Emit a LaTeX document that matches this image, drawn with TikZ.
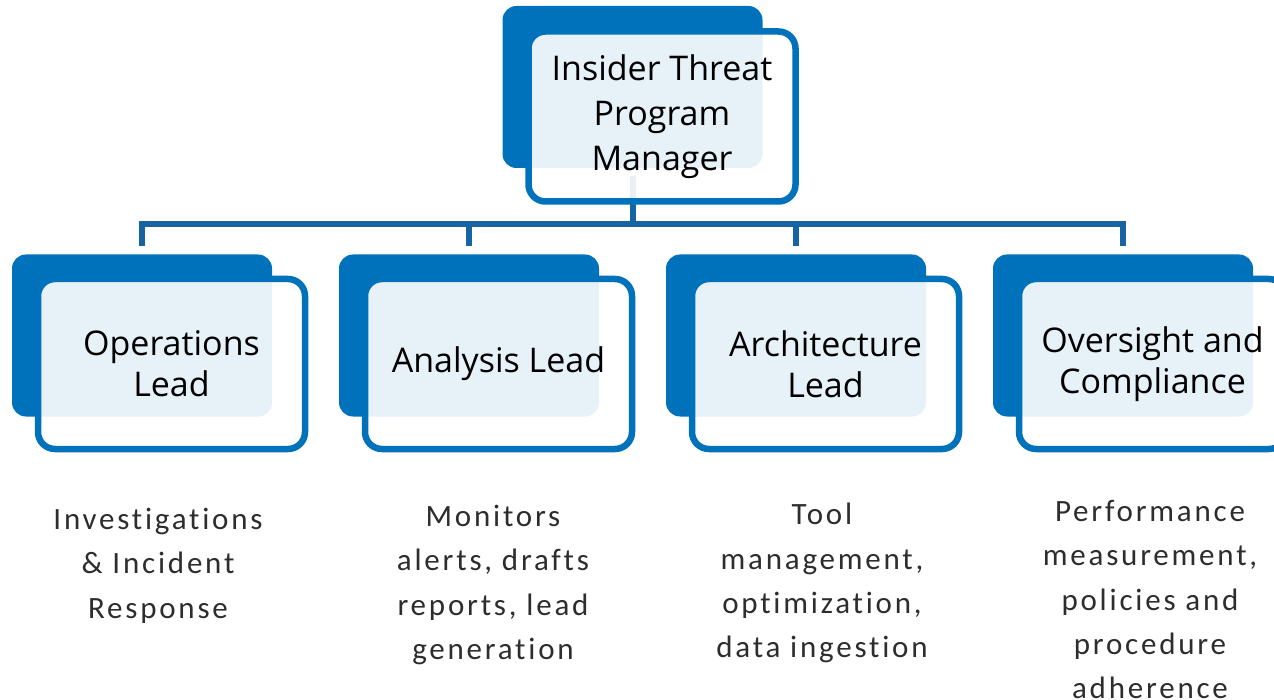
\documentclass[tikz,border=0pt]{standalone}
\usepackage{fontspec}
\setmainfont{Open Sans}
\newfontfamily\descfont[LetterSpace=9,Ligatures=NoCommon]{Carlito}
\usetikzlibrary{backgrounds}
\definecolor{boxblue}{RGB}{0,114,188}
\definecolor{linkblue}{RGB}{22,100,162}
\definecolor{desctext}{RGB}{45,45,45}

\begin{document}
\begin{tikzpicture}[x=1pt,y=-1pt,
  backbox/.style={fill=boxblue, draw=none, rounded corners=14pt,
    minimum width=260pt, minimum height=162pt, inner sep=0pt},
  frontbox/.style={draw=boxblue, line width=6.5pt, fill=white, fill opacity=0.9,
    text opacity=1, rounded corners=17pt, minimum width=267pt, minimum height=170pt,
    inner sep=0pt, align=center, text=black, font=\fontsize{34}{41}\selectfont},
  desc/.style={anchor=north, inner sep=0pt, align=center, text=desctext,
    font=\descfont\fontsize{31}{44.3}\selectfont},
  link/.style={draw=linkblue, line width=6pt}]

\useasboundingbox (0,0) rectangle (1274,700);
\clip (0,0) rectangle (1274,700);

% program manager
\node[backbox]  (b0) at (632.5,87) {};
\node[frontbox, font=\fontsize{34}{45}\selectfont] (f0) at (662,116.5) {Insider Threat\\Program\\Manager};

% leads
\node[backbox]  (b1) at (142,335.5) {};
\node[frontbox] (f1) at (171.5,364) {Operations\\Lead};
\node[backbox]  (b2) at (469,335.5) {};
\node[frontbox] (f2) at (498.5,364) {Analysis Lead};
\node[backbox]  (b3) at (796,335.5) {};
\node[frontbox] (f3) at (825.5,364) {Architecture\\Lead};
\node[backbox]  (b4) at (1123,335.5) {};
\node[frontbox] (f4) at (1152.5,364) {Oversight and\\Compliance};

% responsibilities
\node[desc] (d1) at (158,508) {Investigations\\\& Incident\\Response};
\node[desc] (d2) at (493,505) {Monitors\\alerts, drafts\\reports, lead\\generation};
\node[desc] (d3) at (822,503) {Tool\\management,\\optimization,\\data ingestion};
\node[desc] (d4) at (1150,500) {Performance\\measurement,\\policies and\\procedure\\adherence};

% reporting lines
\begin{scope}[on background layer]
  \coordinate (hub) at (632.5,224);
  \draw[link, shorten <=8pt] (b0.south) -- (hub);
  \draw[link, shorten >=8pt] (hub) -| (b1.north);
  \draw[link, shorten >=8pt] (hub) -| (b2.north);
  \draw[link, shorten >=8pt] (hub) -| (b3.north);
  \draw[link, shorten >=8pt] (hub) -| (b4.north);
\end{scope}
\end{tikzpicture}
\end{document}
